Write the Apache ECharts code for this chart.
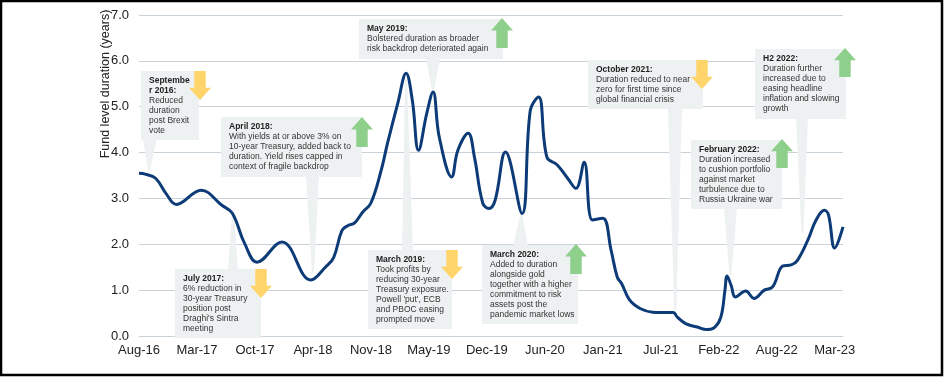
<!DOCTYPE html>
<html>
<head>
<meta charset="utf-8">
<script src="https://cdn.jsdelivr.net/npm/echarts@6/dist/echarts.min.js"></script>
<style>
html, body { margin: 0; padding: 0; background: #fff; }
#chart { width: 944px; height: 377px; }
</style>
</head>
<body>
<div id="chart"></div>
<script>
// x = weeks since Aug-16, y = fund level duration (years)
const weeks = [0, 3, 8, 13, 18, 30, 40, 45, 51, 57, 69, 83, 90, 94, 98, 101, 104, 108, 112, 117,
    120, 125, 129, 132, 135, 139, 142, 145, 151, 154, 159, 162, 166, 169, 172, 177, 185, 189, 193, 197,
    202, 207, 211, 215, 219, 224, 228, 231, 233, 237, 242, 248, 258, 260, 264, 270, 274, 278, 281, 283,
    284, 286, 288, 293, 297, 302, 306, 311, 315, 318, 323, 327, 331, 333, 336, 340];
const duration = [3.55, 3.53, 3.44, 3.11, 2.87, 3.18, 2.85, 2.68, 2.02, 1.61, 2.05, 1.22, 1.5, 1.71, 2.3, 2.41, 2.46, 2.7, 2.9, 3.62,
    4.2, 5.08, 5.73, 5.14, 4.05, 4.86, 5.32, 4.34, 3.47, 4.05, 4.42, 3.9, 2.9, 2.78, 2.96, 4.01, 2.67, 4.93, 5.21, 3.9,
    3.73, 3.44, 3.22, 3.79, 2.53, 2.57, 1.87, 1.28, 1.15, 0.78, 0.6, 0.52, 0.51, 0.41, 0.27, 0.19, 0.14, 0.19, 0.41, 1.0,
    1.31, 1.1, 0.85, 0.98, 0.82, 1.0, 1.07, 1.53, 1.55, 1.65, 2.09, 2.53, 2.74, 2.64, 1.92, 2.38];
const tickLabels = ['Aug-16', 'Mar-17', 'Oct-17', 'Apr-18', 'Nov-18', 'May-19', 'Dec-19',
    'Jun-20', 'Jan-21', 'Jul-21', 'Feb-22', 'Aug-22', 'Mar-23'];
const weeksPerTick = 28;

// call-outs: text, direction of the arrow, and the point on the line they refer to
const notes = [
    { title: 'Septembe\nr 2016:', text: ['Reduced', 'duration', 'post Brexit', 'vote'], move: 'down', at: [4.8, 3.62] },
    { title: 'April 2018:', text: ['With yields at or above 3% on', '10-year Treasury, added back to', 'duration. Yield rises capped in', 'context of fragile backdrop'], move: 'up', at: [84, 1.37] },
    { title: 'July 2017:', text: ['6% reduction in', '30-year Treasury', 'position post', 'Draghi\'s Sintra', 'meeting'], move: 'down', at: [45.4, 2.7] },
    { title: 'May 2019:', text: ['Bolstered duration as broader', 'risk backdrop deteriorated again'], move: 'up', at: [142, 5.35] },
    { title: 'March 2019:', text: ['Took profits by', 'reducing 30-year', 'Treasury exposure.', 'Powell \'put\', ECB', 'and PBOC easing', 'prompted move'], move: 'down', at: [129, 5.6] },
    { title: 'March 2020:', text: ['Added to duration', 'alongside gold', 'together with a higher', 'commitment to risk', 'assets post the', 'pandemic market lows'], move: 'up', at: [184.6, 2.64] },
    { title: 'October 2021:', text: ['Duration reduced to near', 'zero for first time since', 'global financial crisis'], move: 'down', at: [259, 0.56] },
    { title: 'H2 2022:', text: ['Duration further', 'increased due to', 'easing headline', 'inflation and slowing', 'growth'], move: 'up', at: [320.4, 2.24] },
    { title: 'February 2022:', text: ['Duration increased', 'to cushion portfolio', 'against market', 'turbulence due to', 'Russia Ukraine war'], move: 'up', at: [285.6, 1.33] }
];
// box [x, y, w, h], arrow [x, y, w, h], pointer base [x1, x2]
const noteLayout = [
    { box: [141, 71, 58, 69], arrow: [189, 71, 22, 29], base: [143, 157] },
    { box: [221, 117, 141, 60], arrow: [351, 117, 22, 30], base: [306, 319] },
    { box: [175, 269, 86, 69], arrow: [250, 269, 22, 29], base: [228, 238] },
    { box: [359, 19, 144, 40], arrow: [491, 18, 22, 30], base: [426, 440] },
    { box: [368, 250, 84, 79], arrow: [441, 250, 22, 29], base: [402, 413] },
    { box: [482, 245, 96, 79], arrow: [565, 244, 22, 30], base: [513, 528] },
    { box: [588, 60, 115, 49], arrow: [691, 60, 22, 29], base: [668, 682] },
    { box: [755, 49, 91, 70], arrow: [834, 48, 22, 29], base: [796, 808] },
    { box: [691, 140, 91, 69], arrow: [771, 139, 22, 29], base: [724, 737] }
];

const FONT = '"Liberation Sans", Arial, sans-serif';
const BOX_BG = '#eef1f2';
const ARROW_COLOR = { up: '#8fcf8c', down: '#ffd46a' };

var myChart = echarts.init(document.getElementById('chart'));

var option = {
    animation: false,
    grid: { left: 139, right: 101, top: 15, bottom: 41 },
    xAxis: {
        type: 'value',
        min: 0,
        max: 340,
        interval: weeksPerTick,
        splitLine: { show: false },
        axisTick: { show: false },
        axisLine: { show: true, lineStyle: { color: '#c8d2d8', width: 1 } },
        axisLabel: {
            margin: 8,
            fontSize: 13,
            fontFamily: FONT,
            color: '#222',
            showMaxLabel: false,
            formatter: function (v) {
                if (v % weeksPerTick !== 0) return '';
                return tickLabels[v / weeksPerTick] || '';
            }
        }
    },
    yAxis: {
        type: 'value',
        min: 0,
        max: 7,
        interval: 1,
        axisLine: { show: false },
        axisTick: { show: false },
        splitLine: { lineStyle: { color: '#c8d2d8', width: 1 } },
        axisLabel: {
            margin: 10,
            fontSize: 13,
            fontFamily: FONT,
            color: '#222',
            formatter: function (v) { return v.toFixed(1); }
        }
    },
    series: [{
        type: 'line',
        data: weeks.map(function (w, i) { return [w, duration[i]]; }),
        smooth: 0.4,
        symbol: 'none',
        z: 5,
        lineStyle: { color: '#0c3b78', width: 3 }
    }]
};
myChart.setOption(option);

function arrowPoints(r, dir) {
    var x = r[0], y = r[1], w = r[2], h = r[3];
    var s1 = x + w * 0.24, s2 = x + w * 0.76;
    if (dir === 'down') {
        var hy = y + h * 0.58;
        return [[s1, y], [s2, y], [s2, hy], [x + w, hy], [x + w / 2, y + h], [x, hy], [s1, hy]];
    }
    var uy = y + h * 0.42;
    return [[x + w / 2, y], [x + w, uy], [s2, uy], [s2, y + h], [s1, y + h], [s1, uy], [x, uy]];
}

var graphics = [];
notes.forEach(function (n, i) {
    var lay = noteLayout[i];
    var b = lay.box;
    var tip = myChart.convertToPixel({ gridIndex: 0 }, n.at);
    var baseY = tip[1] > b[1] + b[3] ? b[1] + b[3] - 1 : b[1] + 1;
    graphics.push({
        type: 'polygon', z: 3, silent: true,
        shape: { points: [[lay.base[0], baseY], [lay.base[1], baseY], [tip[0] + 1, tip[1]], [tip[0] - 1, tip[1]]] },
        style: { fill: BOX_BG }
    });
    graphics.push({
        type: 'rect', z: 4, silent: true,
        shape: { x: b[0], y: b[1], width: b[2], height: b[3] },
        style: { fill: BOX_BG }
    });
    var rows = n.title.split('\n').map(function (t) { return '{t|' + t + '}'; })
        .concat(n.text.map(function (t) { return '{n|' + t + '}'; }));
    graphics.push({
        type: 'text', z: 6, silent: true,
        x: b[0] + 8, y: b[1] + 5,
        style: {
            text: rows.join('\n'),
            verticalAlign: 'top',
            rich: {
                t: { fontSize: 8.5, fontWeight: 'bold', lineHeight: 10, fontFamily: FONT, fill: '#222' },
                n: { fontSize: 8.5, lineHeight: 10, fontFamily: FONT, fill: '#333' }
            }
        }
    });
    graphics.push({
        type: 'polygon', z: 7, silent: true,
        shape: { points: arrowPoints(lay.arrow, n.move) },
        style: { fill: ARROW_COLOR[n.move] }
    });
});

// axis title
graphics.push({
    type: 'text', silent: true,
    x: 106, y: 84, rotation: Math.PI / 2,
    style: {
        text: 'Fund level duration (years)',
        fontSize: 12.5, fontFamily: FONT, fill: '#222',
        align: 'center', verticalAlign: 'middle'
    }
});
// outer frame
graphics.push({
    type: 'rect', silent: true, z: 10,
    shape: { x: 1, y: 1, width: 941, height: 374 },
    style: { fill: 'none', stroke: '#000', lineWidth: 2.5 }
});

myChart.setOption({ graphic: graphics });
</script>
</body>
</html>
